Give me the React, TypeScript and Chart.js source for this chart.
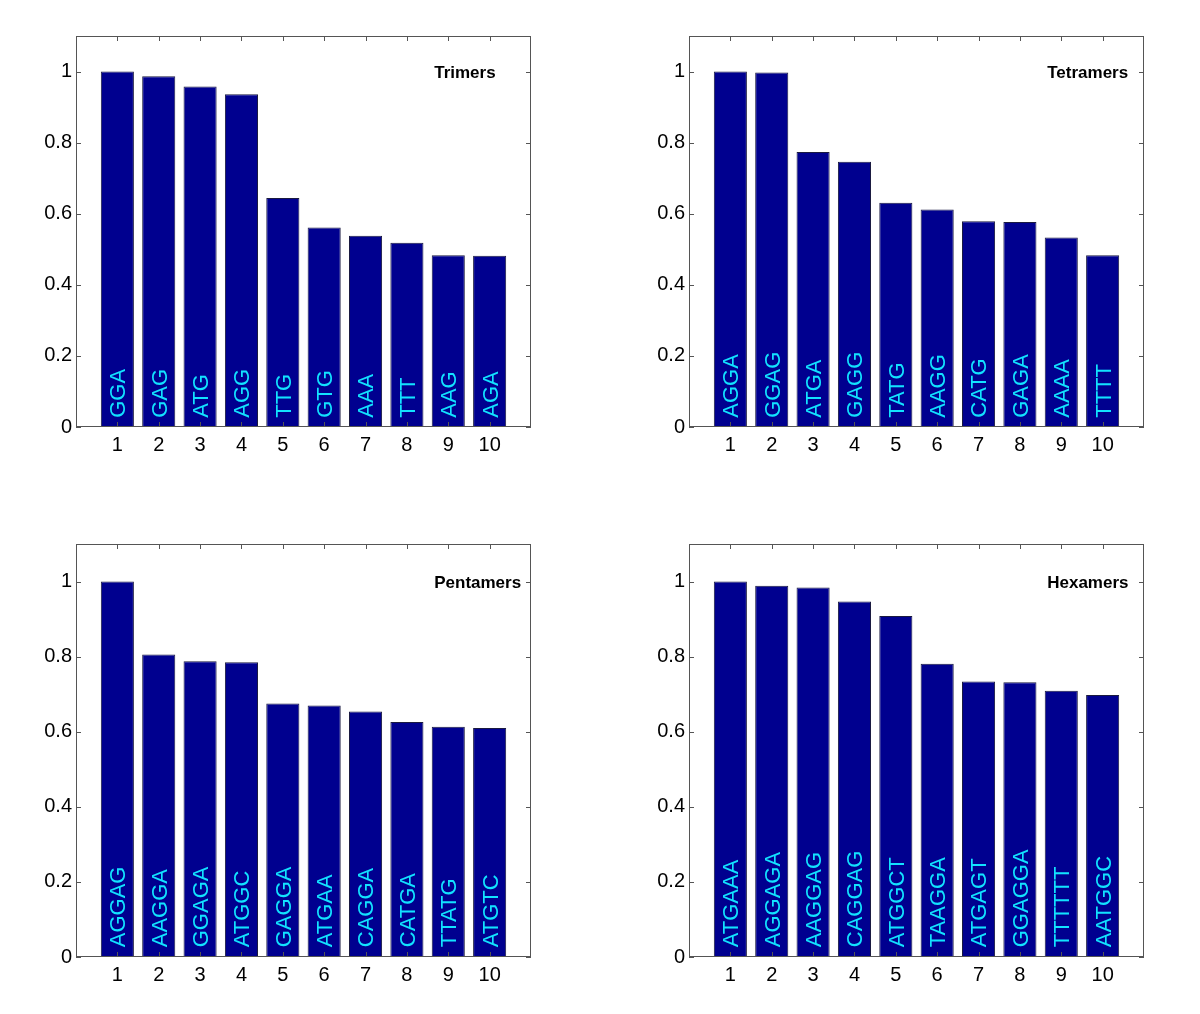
import React, { useEffect, useRef } from "react";
import { Chart, registerables } from "chart.js";

Chart.register(...registerables);

// ---------- data ----------
const positions = [1, 2, 3, 4, 5, 6, 7, 8, 9, 10];
const xTicks = [1, 2, 3, 4, 5, 6, 7, 8, 9, 10];
const yTicks = [0, 0.2, 0.4, 0.6, 0.8, 1];

const trimerLabels = ["GGA", "GAG", "ATG", "AGG", "TTG", "GTG", "AAA", "TTT", "AAG", "AGA"];
const trimerValues = [1.0, 0.987, 0.958, 0.936, 0.644, 0.561, 0.538, 0.518, 0.483, 0.482];

const tetramerLabels = ["AGGA", "GGAG", "ATGA", "GAGG", "TATG", "AAGG", "CATG", "GAGA", "AAAA", "TTTT"];
const tetramerValues = [1.0, 0.997, 0.774, 0.746, 0.631, 0.612, 0.579, 0.577, 0.533, 0.483];

const pentamerLabels = ["AGGAG", "AAGGA", "GGAGA", "ATGGC", "GAGGA", "ATGAA", "CAGGA", "CATGA", "TTATG", "ATGTC"];
const pentamerValues = [1.0, 0.806, 0.788, 0.785, 0.675, 0.67, 0.654, 0.626, 0.613, 0.61];

const hexamerLabels = ["ATGAAA", "AGGAGA", "AAGGAG", "CAGGAG", "ATGGCT", "TAAGGA", "ATGAGT", "GGAGGA", "TTTTTT", "AATGGC"];
const hexamerValues = [1.0, 0.989, 0.984, 0.947, 0.908, 0.781, 0.734, 0.732, 0.709, 0.698];

const panelTitles = ["Trimers", "Tetramers", "Pentamers", "Hexamers"];

// ---------- styling / layout ----------
const BAR_COLOR = "#00008F";
const LABEL_COLOR = "#12E2FF";
const FRAME_COLOR = "#555555";
const FONT = "'Liberation Sans', Arial, Helvetica, sans-serif";
const AXIS_W = 76;
const PAD_T = 36;
const PAD_R = 40;
const AXIS_H = 60;
const LABEL_Y = 0.026;
const TITLE_X = 8.66;
const TITLE_Y = 0.995;
const TICK_LEN = 5;

type Box = { left: number; top: number; width: number; height: number };

function formatY(v: number): string {
  return String(Number(v.toFixed(1)));
}

function Panel(props: { title: string; labels: string[]; values: number[]; box: Box }) {
  const { title, labels, values, box } = props;
  const ref = useRef<HTMLCanvasElement | null>(null);
  const cw = AXIS_W + box.width + PAD_R;
  const ch = PAD_T + box.height + AXIS_H;

  useEffect(() => {
    if (!ref.current) return;
    const overlay = {
      id: "overlay",
      afterDatasetsDraw(chart: any) {
        const ctx = chart.ctx as CanvasRenderingContext2D;
        const xs = chart.scales.x;
        const ys = chart.scales.y;
        const meta = chart.getDatasetMeta(0);
        ctx.save();
        // in-bar rotated labels
        const fs = 22;
        ctx.font = `${fs}px ${FONT}`;
        ctx.fillStyle = LABEL_COLOR;
        ctx.textAlign = "left";
        ctx.textBaseline = "alphabetic";
        meta.data.forEach((bar: any, i: number) => {
          ctx.save();
          ctx.translate(bar.x, ys.getPixelForValue(LABEL_Y));
          ctx.rotate(-Math.PI / 2);
          ctx.fillText(labels[i], 0, fs * 0.716 / 2);
          ctx.restore();
        });
        // panel title
        ctx.font = `bold 17px ${FONT}`;
        ctx.fillStyle = "#000";
        ctx.textBaseline = "middle";
        ctx.fillText(title, xs.getPixelForValue(TITLE_X), ys.getPixelForValue(TITLE_Y));
        // frame
        const { left, right, top, bottom } = chart.chartArea;
        ctx.strokeStyle = FRAME_COLOR;
        ctx.lineWidth = 1;
        ctx.strokeRect(left + 0.5, top + 0.5, right - left - 1, bottom - top - 1);
        ctx.beginPath();
        yTicks.forEach((v) => {
          const py = Math.round(ys.getPixelForValue(v)) + 0.5;
          ctx.moveTo(left, py);
          ctx.lineTo(left + TICK_LEN, py);
          ctx.moveTo(right, py);
          ctx.lineTo(right - TICK_LEN, py);
        });
        xTicks.forEach((v) => {
          const px = Math.round(xs.getPixelForValue(v)) + 0.5;
          ctx.moveTo(px, bottom);
          ctx.lineTo(px, bottom - TICK_LEN);
          ctx.moveTo(px, top);
          ctx.lineTo(px, top + TICK_LEN);
        });
        ctx.stroke();
        ctx.restore();
      },
    };

    const chart = new Chart(ref.current, {
      type: "bar",
      data: {
        datasets: [
          {
            data: positions.map((p, i) => ({ x: p, y: values[i] })),
            backgroundColor: BAR_COLOR,
            borderColor: "#1a1a40",
            borderWidth: 1,
            categoryPercentage: 1,
            barPercentage: 0.8,
          } as any,
        ],
      },
      options: {
        animation: false,
        responsive: false,
        maintainAspectRatio: false,
        devicePixelRatio: 1,
        layout: { padding: { top: PAD_T, right: PAD_R, left: 0, bottom: 0 } },
        plugins: { legend: { display: false }, tooltip: { enabled: false }, title: { display: false } },
        scales: {
          x: {
            type: "linear",
            min: 0,
            max: 11,
            offset: false,
            grid: { display: false, drawTicks: false },
            border: { display: false },
            afterBuildTicks: (s: any) => {
              s.ticks = xTicks.map((v) => ({ value: v }));
            },
            afterFit: (s: any) => {
              s.height = AXIS_H;
            },
            ticks: {
              padding: 6,
              color: "#000",
              font: { family: FONT, size: 20 },
              maxRotation: 0,
              autoSkip: false,
              callback: (v: any) => String(v),
            },
          },
          y: {
            type: "linear",
            min: 0,
            max: 1.1,
            grid: { display: false, drawTicks: false },
            border: { display: false },
            afterBuildTicks: (s: any) => {
              s.ticks = yTicks.map((v) => ({ value: v }));
            },
            afterFit: (s: any) => {
              s.width = AXIS_W;
            },
            ticks: {
              padding: 4,
              color: "#000",
              font: { family: FONT, size: 20 },
              callback: (v: any) => formatY(Number(v)),
            },
          },
        },
      } as any,
      plugins: [overlay],
    });
    return () => chart.destroy();
  }, [title, labels, values, box]);

  return (
    <canvas
      ref={ref}
      width={cw}
      height={ch}
      style={{
        position: "absolute",
        left: box.left - AXIS_W,
        top: box.top - PAD_T,
        width: cw,
        height: ch,
      }}
    />
  );
}

const boxes: Box[] = [
  { left: 76, top: 36, width: 455, height: 391 },
  { left: 689, top: 36, width: 455, height: 391 },
  { left: 76, top: 544, width: 455, height: 413 },
  { left: 689, top: 544, width: 455, height: 413 },
];

export default function App() {
  return (
    <div style={{ position: "absolute", left: 0, top: 0, width: 1200, height: 1014, background: "#fff" }}>
      <Panel title={panelTitles[0]} labels={trimerLabels} values={trimerValues} box={boxes[0]} />
      <Panel title={panelTitles[1]} labels={tetramerLabels} values={tetramerValues} box={boxes[1]} />
      <Panel title={panelTitles[2]} labels={pentamerLabels} values={pentamerValues} box={boxes[2]} />
      <Panel title={panelTitles[3]} labels={hexamerLabels} values={hexamerValues} box={boxes[3]} />
    </div>
  );
}
